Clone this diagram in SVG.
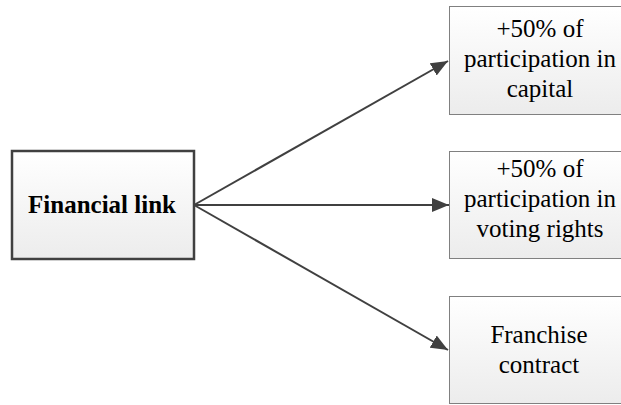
<svg xmlns="http://www.w3.org/2000/svg" width="621" height="405" viewBox="0 0 621 405">
  <defs>
    <linearGradient id="g" x1="0" y1="0" x2="0" y2="1">
      <stop offset="0" stop-color="#ffffff"/>
      <stop offset="1" stop-color="#ececec"/>
    </linearGradient>
    <marker id="ah" markerUnits="userSpaceOnUse" markerWidth="18" markerHeight="14" refX="17" refY="7" orient="auto">
      <path d="M0,0 L17,7 L0,14 Z" fill="#404040"/>
    </marker>
  </defs>
  <style>
    .main { fill: url(#g); stroke: #404040; stroke-width: 2.5; }
    .box { fill: url(#g); stroke: #808080; stroke-width: 1; }
    text { font-family: "Times New Roman", Times, Tinos, "Nimbus Roman", "Liberation Serif", "DejaVu Serif", serif; font-size: 25px; fill: #000; text-anchor: middle; }
    .b { font-weight: bold; }
    .c { stroke: #404040; stroke-width: 2; fill: none; marker-end: url(#ah); }
  </style>
  <g id="connectors">
    <line class="c" x1="194" y1="205" x2="448" y2="61"/>
    <line class="c" x1="194" y1="205" x2="449" y2="205"/>
    <line class="c" x1="194" y1="205" x2="448" y2="350"/>
  </g>
  <g id="financial-link">
    <rect class="main" x="12" y="151" width="182" height="108"/>
    <text class="b" x="102" y="213">Financial link</text>
  </g>
  <g id="capital">
    <rect class="box" x="449.5" y="6.5" width="175" height="108"/>
    <text x="540" y="37">+50% of</text>
    <text x="540" y="67">participation in</text>
    <text x="540" y="97">capital</text>
  </g>
  <g id="voting">
    <rect class="box" x="449.5" y="151.5" width="175" height="107"/>
    <text x="540" y="177">+50% of</text>
    <text x="540" y="207">participation in</text>
    <text x="540" y="237">voting rights</text>
  </g>
  <g id="franchise">
    <rect class="box" x="449.5" y="296.5" width="175" height="107"/>
    <text x="539" y="343">Franchise</text>
    <text x="539" y="373">contract</text>
  </g>
</svg>
